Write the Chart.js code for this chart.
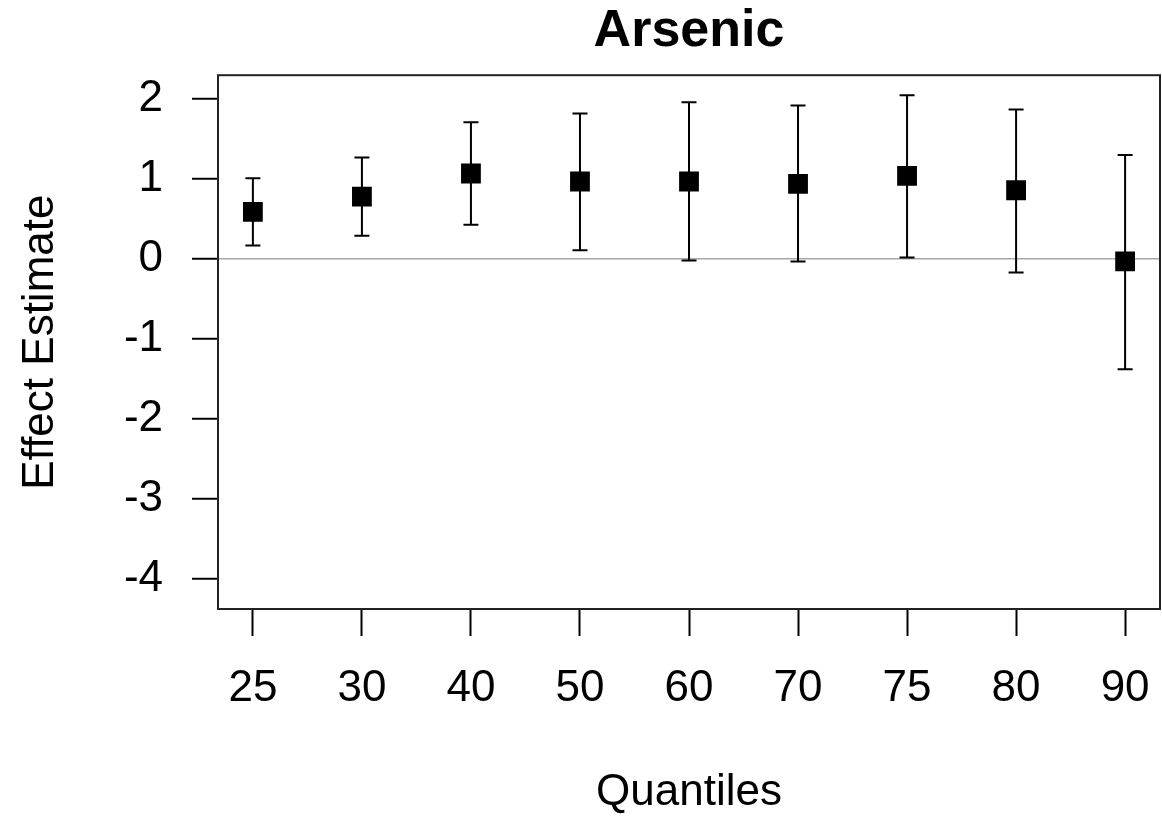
<!DOCTYPE html>
<html>
<head>
<meta charset="utf-8">
<title>Arsenic</title>
<script src="https://cdn.jsdelivr.net/npm/chart.js@4.4.1/dist/chart.umd.min.js"></script>
<style>
  html, body { margin: 0; padding: 0; background: #fff; }
  #grafico { display: block; }
</style>
</head>
<body>
<canvas id="grafico" width="1162" height="823"></canvas>
<script>
var ctx = document.getElementById('grafico').getContext('2d');

// dados
var quantiles = ['25', '30', '40', '50', '60', '70', '75', '80', '90'];
var estimate = [0.59, 0.78, 1.07, 0.97, 0.97, 0.94, 1.04, 0.86, -0.03];
var lower = [0.17, 0.29, 0.43, 0.11, -0.02, -0.03, 0.02, -0.17, -1.38];
var upper = [1.01, 1.27, 1.71, 1.82, 1.96, 1.92, 2.05, 1.87, 1.30];
var yTicks = [-4, -3, -2, -1, 0, 1, 2];

var fontFamily = '"Liberation Sans", Arial, Helvetica, sans-serif';

var points = estimate.map(function (v, i) { return { x: i + 1, y: v }; });

// barras de erro + moldura do gráfico
var errorBars = {
  id: 'errorBars',
  beforeDatasetsDraw: function (chart) {
    var c = chart.ctx;
    var xs = chart.scales.x, ys = chart.scales.y;
    c.save();
    c.strokeStyle = '#000';
    c.lineWidth = 2;
    for (var i = 0; i < estimate.length; i++) {
      var px = xs.getPixelForValue(i + 1);
      var top = ys.getPixelForValue(upper[i]);
      var bot = ys.getPixelForValue(lower[i]);
      c.beginPath();
      c.moveTo(px, top); c.lineTo(px, bot);
      c.moveTo(px - 7.5, top); c.lineTo(px + 7.5, top);
      c.moveTo(px - 7.5, bot); c.lineTo(px + 7.5, bot);
      c.stroke();
    }
    c.restore();
  },
  afterDraw: function (chart) {
    var a = chart.chartArea, c = chart.ctx;
    c.save();
    c.strokeStyle = '#222';
    c.lineWidth = 2;
    c.strokeRect(a.left, a.top, a.right - a.left, a.bottom - a.top);
    c.restore();
  }
};

var options = {
  responsive: false,
  animation: false,
  layout: { autoPadding: false, padding: { left: 0, right: 2, top: 0, bottom: 0 } },
  scales: {
    x: {
      type: 'linear',
      min: 0.68,
      max: 9.32,
      afterBuildTicks: function (s) { s.ticks = quantiles.map(function (q, i) { return { value: i + 1 }; }); },
      afterFit: function (s) { s.height = 214; s.paddingLeft = 0; s.paddingRight = 0; },
      ticks: {
        callback: function (v) { return quantiles[v - 1]; },
        color: '#000',
        padding: 0,
        font: { family: fontFamily, size: 44, lineHeight: 2.382 }
      },
      grid: { drawOnChartArea: false, tickLength: 27, tickColor: '#000', tickWidth: 2 },
      border: { display: false },
      title: {
        display: true,
        text: 'Quantiles',
        color: '#000',
        padding: 4,
        font: { family: fontFamily, size: 44 }
      }
    },
    y: {
      min: -4.38,
      max: 2.30,
      afterBuildTicks: function (s) { s.ticks = yTicks.map(function (v) { return { value: v }; }); },
      afterFit: function (s) { s.width = 218; s.paddingTop = 0; s.paddingBottom = 0; },
      ticks: {
        callback: function (v) { return String(v); },
        color: '#000',
        padding: 29,
        font: { family: fontFamily, size: 44 }
      },
      grid: {
        drawOnChartArea: true,
        color: function (c) { return c.tick && c.tick.value === 0 ? '#a8a8a8' : 'rgba(0,0,0,0)'; },
        lineWidth: 1.5,
        tickLength: 26,
        tickColor: '#000',
        tickWidth: 2
      },
      border: { display: false },
      title: {
        display: true,
        text: 'Effect Estimate',
        color: '#000',
        padding: 14,
        font: { family: fontFamily, size: 44 }
      }
    }
  },
  plugins: {
    legend: { display: false },
    tooltip: { enabled: false },
    title: {
      display: true,
      fullSize: false,
      text: 'Arsenic',
      color: '#000',
      padding: { top: 3, bottom: 15 },
      font: { family: fontFamily, size: 52, weight: 'bold', lineHeight: 1.1 }
    }
  }
};

var chart = new Chart(ctx, {
  type: 'scatter',
  data: {
    datasets: [{
      data: points,
      pointStyle: 'rect',
      pointRadius: 14,
      pointBorderWidth: 0,
      backgroundColor: '#000',
      borderColor: '#000',
      showLine: false
    }]
  },
  options: options,
  plugins: [errorBars]
});
</script>
</body>
</html>
